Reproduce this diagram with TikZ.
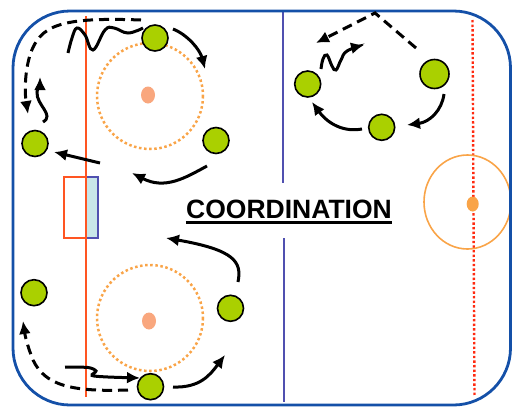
\documentclass[tikz,border=0pt]{standalone}
\usepackage{fontspec}
\setmainfont{Liberation Sans}
\usetikzlibrary{arrows.meta}
\definecolor{rinkblue}{HTML}{1450A8}
\definecolor{blueline}{HTML}{5050B0}
\definecolor{goalred}{HTML}{FF5522}
\definecolor{creasefill}{HTML}{C8E6E8}
\definecolor{dotorange}{HTML}{F9A448}
\definecolor{salmon}{HTML}{F9A77E}
\definecolor{centerred}{HTML}{FF2A10}
\definecolor{playergreen}{HTML}{AAD000}
\tikzset{
  player/.style={circle,draw=black,fill=playergreen,line width=1.6pt,minimum size=26pt,inner sep=0pt},
  skate/.style={line width=3pt,-{Latex[length=13pt,width=12pt]}},
  skatedash/.style={skate,dash pattern=on 10pt off 6pt},
  wave/.style={line width=3pt},
  fodot/.style={dotorange,line width=2.5pt,dash pattern=on 2.5pt off 2.6pt},
  title/.style={font=\bfseries\fontsize{26.5}{30}\selectfont,inner sep=0pt}
}
\begin{document}
\begin{tikzpicture}[x=1pt,y=-1pt]
\useasboundingbox (0,0) rectangle (514,407);
% rink markings
\draw[goalred,line width=2pt] (86,16) -- (86,397);
\draw[blueline,line width=1.2pt,fill=creasefill] (86,177) rectangle (98,238);
\draw[goalred,line width=2.2pt] (64,177) rectangle (86,238);
\draw[blueline,line width=2.4pt] (283,12) -- (283,183);
\draw[blueline,line width=2.4pt] (284,238) -- (284,402);
\draw[centerred,line width=2.4pt,dash pattern=on 2.4pt off 2.2pt] (472.5,20) -- (474.5,397);
\draw[dotorange,line width=1.6pt] (467.5,202) ellipse [x radius=43.5,y radius=47];
\fill[dotorange] (472.7,204) ellipse [x radius=6,y radius=7.5];
\draw[fodot] (150,96) circle (53);
\fill[salmon] (148,95) ellipse [x radius=7,y radius=8.5];
\draw[fodot] (150,318) circle (53);
\fill[salmon] (149,321) ellipse [x radius=7,y radius=8.5];
\draw[rinkblue,line width=2.8pt,rounded corners=57pt] (13,11) rectangle (510.5,405);
% title
\node[title] (t) at (289,209) {COORDINATION};
\draw[line width=2.8pt] (t.south west |- 0,222.5) coordinate (u1) -- (t.south east |- 0,222.5) coordinate (u2);
% players
\node[player] (p1) at (155,38) {};
\node[player] (p2) at (35,143.5) {};
\node[player] (p3) at (216,140.5) {};
\node[player] (p4) at (307.7,84) {};
\node[player,minimum size=29pt] (p5) at (434.5,74) {};
\node[player] (p6) at (381.7,127.3) {};
\node[player] (p7) at (34,292.7) {};
\node[player] (p8) at (230.5,308.3) {};
\node[player] (p9) at (150.5,386.7) {};
% free ends
\coordinate (a1) at (141,20);
\coordinate (a2) at (28,114);
\coordinate (w1) at (68,53);
\coordinate (c1) at (43,122);
\coordinate (c2) at (40,77);
\coordinate (d1) at (173,29);
\coordinate (d2) at (205,69);
\coordinate (e1) at (100,163);
\coordinate (e2) at (54,152);
\coordinate (f1) at (207,166);
\coordinate (f2) at (132,173);
\coordinate (g1) at (238,282);
\coordinate (g2) at (166,238);
\coordinate (h1) at (128,390);
\coordinate (h2) at (23,321);
\coordinate (i1) at (65,367);
\coordinate (i2) at (140,378);
\coordinate (j1) at (173,387);
\coordinate (j2) at (225,355);
\coordinate (k1) at (416,48);
\coordinate (k2) at (316,43);
\coordinate (l1) at (321,69);
\coordinate (l2) at (364,45);
\coordinate (m1) at (444,94);
\coordinate (m2) at (407,125);
\coordinate (n1) at (362,129);
\coordinate (n2) at (312,102);
% skating paths, top left
\draw[skatedash] (a1) .. controls (60,17) and (40,25) .. (30,55) .. controls (24,75) and (25,95) .. (a2);
\draw[wave] plot[smooth,tension=0.7] coordinates {(143,28) (128,33) (114,28) (105,30) (93,50) (85,35) (77,28) (72,38) (w1)};
\draw[skate] (c1) .. controls (55,115) and (36,105) .. (37,92) .. controls (38,86) and (40,82) .. (c2);
\draw[skate] (d1) .. controls (188,35) and (200,50) .. (d2);
\draw[skate] (e1) -- (e2);
\draw[skate] (f1) .. controls (185,178) and (165,190) .. (f2);
% top right
\draw[skatedash] (k1) -- (375,13) -- (k2);
\draw[skate] plot[smooth,tension=0.7] coordinates {(l1) (323,59) (327,55) (332,66) (336,70) (341,60) (347,51) (l2)};
\draw[skate] (m1) .. controls (442,110) and (430,122) .. (m2);
\draw[skate] (n1) .. controls (340,133) and (325,120) .. (n2);
% bottom left
\draw[skate] (g1) .. controls (242,262) and (235,250) .. (g2);
\draw[skatedash] (h1) .. controls (70,392) and (45,385) .. (33,360) .. controls (27,345) and (25,335) .. (h2);
\draw[skate] plot[smooth,tension=0.5] coordinates {(i1) (88,367.5) (96,371) (92,375.5) (108,377) (i2)};
\draw[skate] (j1) .. controls (200,388) and (210,375) .. (j2);
\end{tikzpicture}
\end{document}
